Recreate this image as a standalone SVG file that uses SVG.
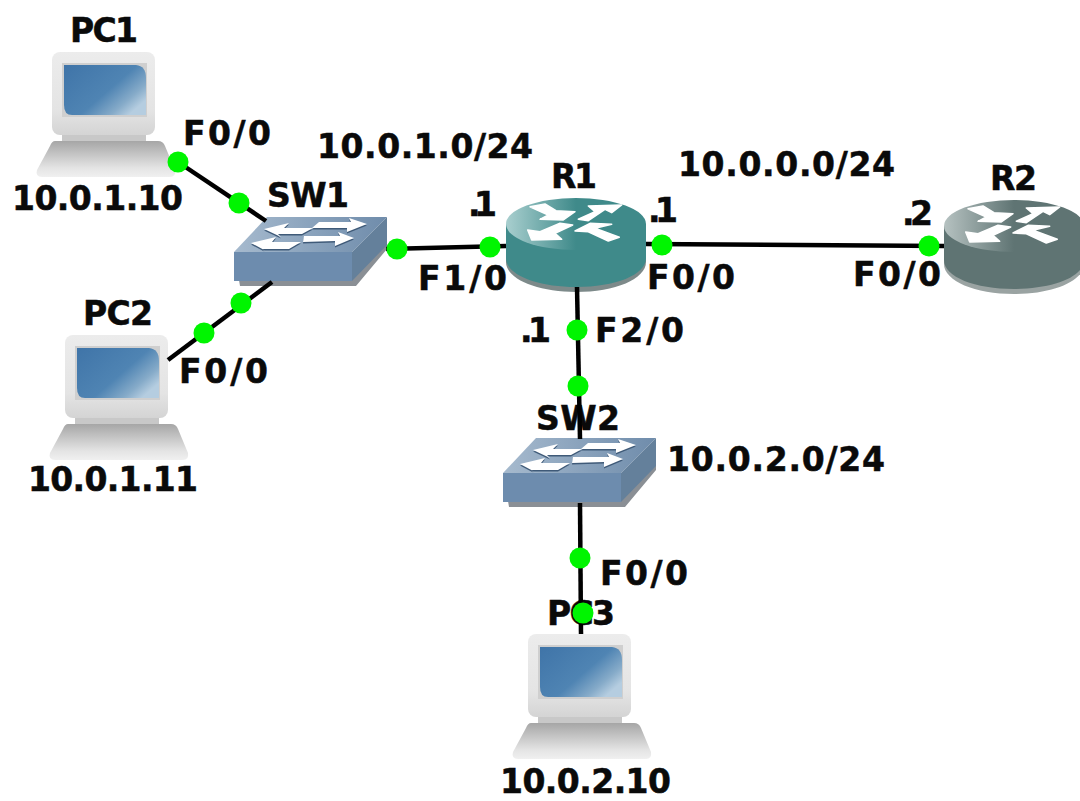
<svg xmlns="http://www.w3.org/2000/svg" width="1080" height="801" viewBox="0 0 1080 801">
<style>
text{font-family:"DejaVu Sans","Noto Sans",sans-serif;font-weight:700;font-size:33px;fill:#0a0a0a;stroke:#0a0a0a;stroke-width:0.5}
.l{stroke:#000;stroke-width:4.5;fill:none}
.d{fill:#00f500}
.ra{fill:#fff;stroke:#fff;stroke-width:1.5;stroke-linejoin:round}
</style>
<defs>
<linearGradient id="mon" x1="0" y1="0" x2="0" y2="1"><stop offset="0" stop-color="#ececec"/><stop offset="0.7" stop-color="#e4e4e4"/><stop offset="1" stop-color="#d4d4d4"/></linearGradient>
<linearGradient id="key" x1="0" y1="0" x2="0" y2="1"><stop offset="0" stop-color="#a6a6a6"/><stop offset="0.75" stop-color="#e4e4e4"/><stop offset="1" stop-color="#f0f0f0"/></linearGradient>
<linearGradient id="scr" x1="0" y1="0" x2="1" y2="0.7"><stop offset="0" stop-color="#3f74a8"/><stop offset="0.6" stop-color="#4f84b3"/><stop offset="0.85" stop-color="#86abc9"/><stop offset="1" stop-color="#b5cde0"/></linearGradient>
<linearGradient id="rt1" x1="0" y1="0" x2="1" y2="0"><stop offset="0" stop-color="#a9cfcf"/><stop offset="0.5" stop-color="#3f8a8a"/><stop offset="1" stop-color="#3f8a8a"/></linearGradient>
<linearGradient id="rt2" x1="0" y1="0" x2="1" y2="0"><stop offset="0" stop-color="#b6c2c1"/><stop offset="0.5" stop-color="#5f7473"/><stop offset="1" stop-color="#5f7473"/></linearGradient>
<linearGradient id="swt" x1="0" y1="0" x2="1" y2="0"><stop offset="0" stop-color="#a6bace"/><stop offset="1" stop-color="#6f8cab"/></linearGradient>
<g id="pc">
<path d="M62 134h84v8h-84z" fill="#c8c8c8"/>
<path d="M55 141H158Q163 141 165 146L175 170Q176 177 170 177H42Q35 177 37 170L50 146Q52 141 55 141Z" fill="url(#key)"/>
<rect x="52" y="52" width="103" height="83" rx="8" fill="url(#mon)"/>
<rect x="62" y="63" width="85" height="54" fill="#cfcfcf"/>
<path d="M64 65H136Q146 66 146 78V115H72Q64 115 64 105Z" fill="url(#scr)"/>
</g>
<g id="arrows">
<polygon class="ra" points="530,206.7 545,204 556,210.7 575,211.7 563.3,220 540,219.3 548.3,215"/>
<polygon class="ra" points="578.3,219.3 595,211.7 588.3,206 621.7,205 611.7,212.7 605,209.3 588.3,220.7"/>
<polygon class="ra" points="572.7,225 555,233.3 561.7,239.3 531.7,240 527.7,230 540,231.7 560,223.3"/>
<polygon class="ra" points="575,231 590,223.3 611.7,224.3 595,228.3 619.3,237.3 608.3,241 588.3,231.7"/>
</g>
<g id="swa">
<polygon points="264,229 289,223 284,228 313,228 302,234 278,234 281,237"/>
<polygon points="319,222 351,222 349,218 367,224 347,232 347,228 312,228"/>
<polygon points="251,243 276,237 272,242 301,242 289,249 262,249 266,251"/>
<polygon points="304,236 340,236 338,232 354,238 335,246 335,241 303,242"/>
</g>
<g id="swi">
<polygon points="235,256 353,256 387,221 387,249 356,286 240,286" fill="#8a8f95"/>
<polygon points="234,252 267,217 387,217 352,252" fill="url(#swt)"/>
<rect x="234" y="252" width="118" height="29" fill="#6d8cae"/>
<polygon points="352,252 387,217 387,245 352,281" fill="#64809b"/>
<use href="#swa" y="1.5" fill="#3f5a78"/>
<use href="#swa" fill="#fff"/>
</g>
</defs>

<g id="PC1"><use href="#pc"/><text x="70" y="42" textLength="68">PC1</text><text x="12" y="210" textLength="171">10.0.1.10</text></g>
<g id="PC2"><use href="#pc" x="13" y="283"/><text x="83" y="325" textLength="70">PC2</text><text x="28" y="491" textLength="170">10.0.1.11</text></g>
<g id="PC3"><use href="#pc" x="476" y="582"/><text x="547" y="625" textLength="68">PC3</text><text x="500" y="793" textLength="171">10.0.2.10</text></g>
<g id="SW1"><use href="#swi"/><text x="267" y="207" textLength="82">SW1</text></g>
<g id="SW2"><use href="#swi" x="269" y="221"/><text x="536" y="430" textLength="84">SW2</text></g>
<g id="R1">
<path d="M506 224V262C506 279 537 292 576 292S646 279 646 262V224Z" fill="#7d8a8a"/>
<path d="M506 224V258C506 275 537 287 576 287S646 275 646 258V224Z" fill="#3f8a8a"/>
<ellipse cx="576" cy="224" rx="70" ry="26" fill="url(#rt1)"/>
<use href="#arrows"/>
<text x="551" y="188" textLength="46">R1</text>
</g>
<g id="R2">
<path d="M944 226V264C944 281 975 294 1014 294S1084 281 1084 264V226Z" fill="#9aa3a2"/>
<path d="M944 226V260C944 277 975 289 1014 289S1084 277 1084 260V226Z" fill="#5f7473"/>
<ellipse cx="1014" cy="226" rx="70" ry="26" fill="url(#rt2)"/>
<use href="#arrows" x="438" y="2"/>
<text x="990" y="190" textLength="47">R2</text>
</g>

<g id="connectors">
<line class="l" x1="172" y1="158" x2="266" y2="221"/>
<line class="l" x1="272" y1="282" x2="168" y2="360"/>
<line class="l" x1="386" y1="249" x2="506" y2="246"/>
<line class="l" x1="646" y1="244" x2="944" y2="246"/>
<line class="l" x1="577" y1="287" x2="580" y2="439"/>
<line class="l" x1="580" y1="503" x2="581" y2="634"/>
<circle class="d" cx="178" cy="162" r="10.5"/>
<circle class="d" cx="239" cy="203" r="10.5"/>
<circle class="d" cx="241" cy="303" r="10.5"/>
<circle class="d" cx="204" cy="333" r="10.5"/>
<circle class="d" cx="397" cy="249" r="10.5"/>
<circle class="d" cx="490" cy="247" r="10.5"/>
<circle class="d" cx="662" cy="245" r="10.5"/>
<circle class="d" cx="929" cy="246" r="10.5"/>
<circle class="d" cx="577" cy="330" r="10.5"/>
<circle class="d" cx="578" cy="386" r="10.5"/>
<circle class="d" cx="580" cy="558" r="10.5"/>
<circle class="d" cx="583" cy="613" r="10.5"/>
</g>

<g id="labels">
<text x="183" y="145" textLength="88">F0/0</text>
<text x="317" y="158" textLength="216">10.0.1.0/24</text>
<text x="468" y="216" textLength="29">.1</text>
<text x="648" y="222" textLength="30">.1</text>
<text x="678" y="176" textLength="217">10.0.0.0/24</text>
<text x="902" y="225" textLength="31">.2</text>
<text x="853" y="286" textLength="88">F0/0</text>
<text x="418" y="290" textLength="89">F1/0</text>
<text x="647" y="289" textLength="88">F0/0</text>
<text x="520" y="342" textLength="31">.1</text>
<text x="595" y="342" textLength="89">F2/0</text>
<text x="667" y="471" textLength="218">10.0.2.0/24</text>
<text x="179" y="383" textLength="89">F0/0</text>
<text x="600" y="585" textLength="88">F0/0</text>
</g>
</svg>
